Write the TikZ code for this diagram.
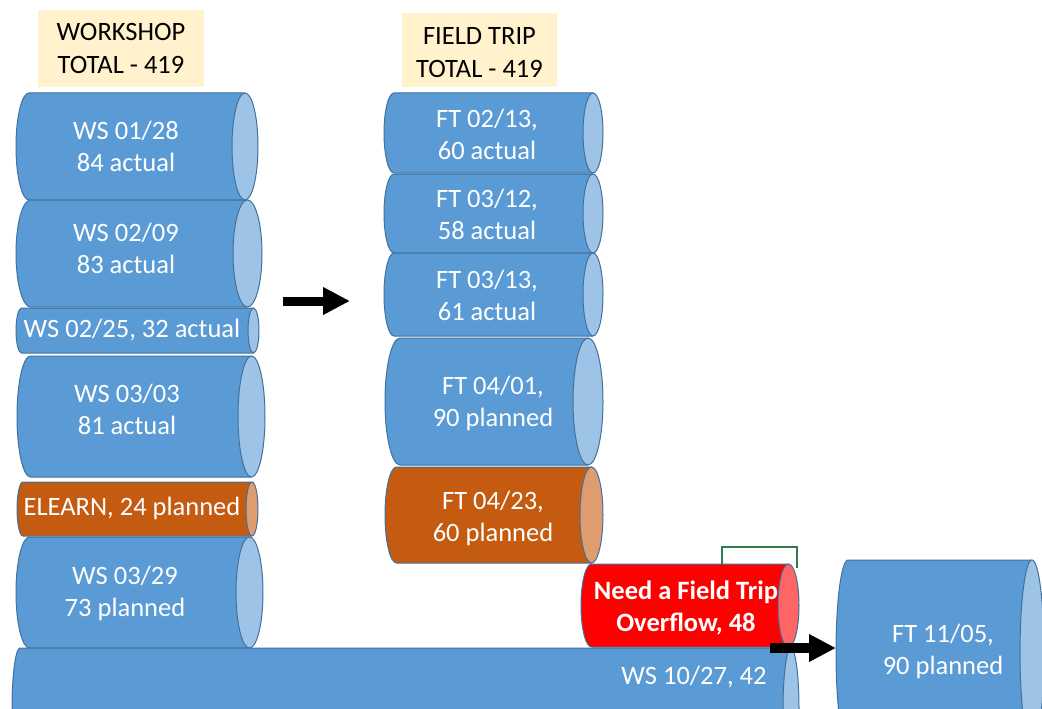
\documentclass[tikz,border=0pt]{standalone}
\usepackage{fontspec}
\setmainfont{Carlito}
\usetikzlibrary{arrows.meta}
\definecolor{bluebody}{HTML}{5B9BD5}
\definecolor{blueend}{HTML}{9DC3E6}
\definecolor{orbody}{HTML}{C55A11}
\definecolor{orend}{HTML}{DF9C6E}
\definecolor{redbody}{HTML}{FF0000}
\definecolor{redend}{HTML}{FF6565}
\definecolor{cylline}{HTML}{41719C}
\definecolor{hdrfill}{HTML}{FFF2CC}
\definecolor{brgreen}{HTML}{2E7D4F}
\tikzset{
  lbl/.style={text=white, align=center, font=\fontsize{26.5}{32}\selectfont, inner sep=0pt},
  hdr/.style={fill=hdrfill, text=black, align=center, font=\fontsize{26.5}{33}\selectfont, inner sep=0pt},
  hdrtext/.style={text=black, align=center, font=\fontsize{26.5}{33}\selectfont, inner sep=0pt},
  bigarrow/.style={line width=9pt, -{Triangle[length=27pt,width=26pt]}},
  bracketline/.style={draw=brgreen, line width=1.5pt}
}
% name, x1, y1, x2, y2, rx, body colour, end colour
\newcommand{\mycyl}[8]{%
  \pgfmathsetmacro\cyL{#2+#6}%
  \pgfmathsetmacro\cyR{#4-#6}%
  \pgfmathsetmacro\cyRy{(#5-#3)/2}%
  \pgfmathsetmacro\cyC{-(#3+#5)/2}%
  \pgfmathsetmacro\cyX{(#2+#4)/2}%
  \pgfmathsetmacro\cyW{#4-#2}%
  \pgfmathsetmacro\cyH{#5-#3}%
  \filldraw[draw=cylline, fill=#7, line width=1pt] (\cyR,-#3) -- (\cyL,-#3)
     arc[start angle=90, end angle=270, x radius=#6pt, y radius=\cyRy pt] -- (\cyR,-#5);
  \filldraw[draw=cylline, fill=#8, line width=1pt] (\cyR,\cyC) ellipse[x radius=#6pt, y radius=\cyRy pt];
  \node[inner sep=0pt, outer sep=0pt, minimum width=\cyW pt, minimum height=\cyH pt] (#1) at (\cyX,\cyC) {};
}
\begin{document}
\begin{tikzpicture}[x=1pt,y=1pt]
\clip (0,0) rectangle (1042,-709);
\fill[white] (0,0) rectangle (1042,-709);

% headers
\node[hdr, minimum width=166pt, minimum height=77pt] (hws) at (121,-48.5) {WORKSHOP\\TOTAL - 419};
\node[hdr, minimum width=155pt, minimum height=74pt] (hft) at (479.5,-50) {};
\node[hdrtext] (hft-t) at (479.5,-53) {FIELD TRIP\\TOTAL - 419};

% workshop column
\mycyl{ws0128}{16}{93}{258}{200}{13}{bluebody}{blueend}
\node[lbl] (ws0128-t) at (126,-146) {WS 01/28\\84 actual};
\mycyl{ws0209}{16}{200}{262}{307}{14.5}{bluebody}{blueend}
\node[lbl] (ws0209-t) at (126,-248) {WS 02/09\\83 actual};
\mycyl{ws0225}{16}{308}{259}{353}{5.5}{bluebody}{blueend}
\node[lbl] (ws0225-t) at (132,-330) {WS 02/25, 32 actual};
\mycyl{ws0303}{17}{356}{265}{477}{13.5}{bluebody}{blueend}
\node[lbl] (ws0303-t) at (127,-409) {WS 03/03\\81 actual};
\mycyl{elearn}{17}{482}{258}{536}{6}{orbody}{orend}
\node[lbl] (elearn-t) at (132,-508) {ELEARN, 24 planned};
\mycyl{ws0329}{16}{537}{263}{648}{13.5}{bluebody}{blueend}
\node[lbl] (ws0329-t) at (125,-593) {WS 03/29\\73 planned};

% field trip column
\mycyl{ft0213}{384}{93}{603}{173}{10}{bluebody}{blueend}
\node[lbl] (ft0213-t) at (487,-134) {FT 02/13,\\60 actual};
\mycyl{ft0312}{384}{174}{603}{253}{10}{bluebody}{blueend}
\node[lbl] (ft0312-t) at (487,-214) {FT 03/12,\\58 actual};
\mycyl{ft0313}{384}{253}{603}{336}{10}{bluebody}{blueend}
\node[lbl] (ft0313-t) at (487,-295) {FT 03/13,\\61 actual};
\mycyl{ft0401}{385}{338}{603}{465}{15}{bluebody}{blueend}
\node[lbl] (ft0401-t) at (493,-403) {FT 04/01,\\90 planned};
\mycyl{ft0423}{385}{467}{603}{563}{11.5}{orbody}{orend}
\node[lbl] (ft0423-t) at (493,-518) {FT 04/23,\\60 planned};

% bottom row
\mycyl{ft1105}{836}{560}{1044}{745}{12}{bluebody}{blueend}
\node[lbl] (ft1105-t) at (943,-651) {FT 11/05,\\90 planned};
\mycyl{ws1027}{12}{648}{799}{770}{8}{bluebody}{blueend}
\node[lbl] (ws1027-t) at (694,-677) {WS 10/27, 42};

% green bracket and overflow
\draw[bracketline] (722,-564) -- (722,-547) -- (797,-547) -- (797,-568);
\mycyl{overflow}{581}{564}{799}{647}{10.5}{redbody}{redend}
\node[lbl, font=\fontsize{26.5}{32}\selectfont\bfseries] (overflow-t) at (686,-608) {Need a Field Trip\\Overflow, 48};

% arrows
\coordinate (a1s) at (283,-301);
\coordinate (a1e) at (350,-301);
\draw[bigarrow] (a1s) -- (a1e);
\coordinate (a2s) at (770,-648);
\draw[bigarrow, line width=10pt] (a2s) -- (a2s -| ft1105.west);
\end{tikzpicture}
\end{document}
